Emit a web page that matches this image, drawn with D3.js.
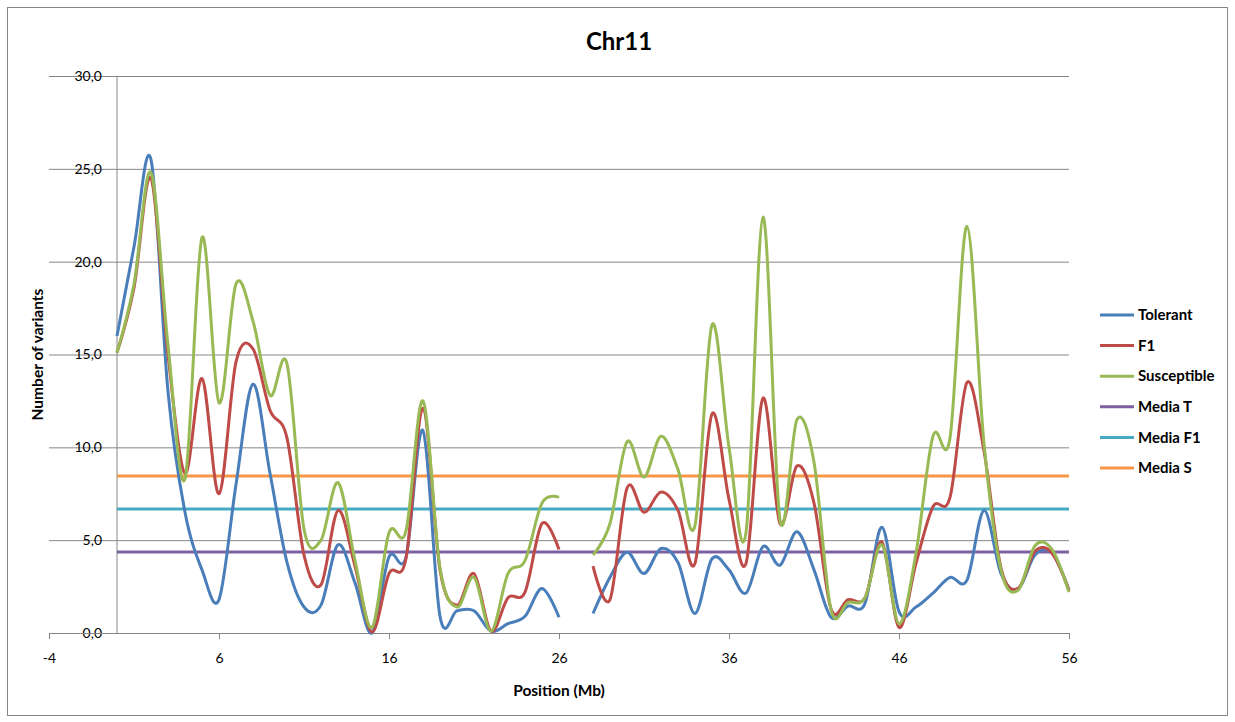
<!DOCTYPE html>
<html>
<head>
<meta charset="utf-8">
<script src="https://cdn.jsdelivr.net/npm/d3@7"></script>
<style>
  body { margin: 0; background: #fff; }
  svg { font-family: Lato, "Open Sans", sans-serif; }
</style>
</head>
<body>
<div id="chart"></div>
<script>
// Data
const positions = [0, 1, 2, 3, 4, 5, 6, 7, 8, 9, 10, 11, 12, 13, 14, 15, 16, 17, 18, 19,
    20, 21, 22, 23, 24, 25, 26, 27, 28, 29, 30, 31, 32, 33, 34, 35, 36, 37, 38, 39,
    40, 41, 42, 43, 44, 45, 46, 47, 48, 49, 50, 51, 52, 53, 54, 55, 56];

const tolerant = [16.0, 20.8, 25.5, 13.0, 6.5, 3.4, 1.8, 8.0, 13.4, 8.6,
    3.8, 1.4, 1.5, 4.75, 2.7, 0.0, 4.1, 4.1, 10.9, 0.9,
    1.2, 1.2, 0.1, 0.5, 0.9, 2.4, 0.85, null, 1.05, 3.0,
    4.35, 3.2, 4.55, 3.8, 1.05, 4.0, 3.4, 2.15, 4.65, 3.65,
    5.45, 3.4, 0.85, 1.45, 1.6, 5.7, 1.15, 1.4, 2.15, 3.0,
    2.85, 6.6, 3.2, 2.35, 4.2, 4.3, 2.3];

const f1 = [15.1, 18.6, 24.5, 15.0, 8.6, 13.7, 7.5, 14.6, 15.3, 12.0,
    10.5, 4.2, 2.6, 6.6, 3.6, 0.05, 3.2, 4.0, 12.1, 3.4,
    1.5, 3.2, 0.1, 1.9, 2.2, 5.9, 4.5, null, 3.6, 1.8,
    7.8, 6.5, 7.6, 6.6, 3.75, 11.8, 7.2, 3.75, 12.65, 5.9,
    9.0, 7.0, 1.3, 1.8, 1.9, 4.9, 0.3, 3.75, 6.8, 7.3,
    13.5, 9.8, 3.5, 2.4, 4.4, 4.3, 2.3];

const susceptible = [15.1, 18.8, 24.8, 15.5, 8.3, 21.3, 12.4, 18.8, 16.8, 12.8,
    14.5, 5.6, 5.0, 8.1, 3.9, 0.3, 5.4, 5.5, 12.5, 3.5,
    1.4, 3.0, 0.1, 3.2, 3.9, 7.0, 7.3, null, 4.2, 5.9,
    10.3, 8.4, 10.6, 8.8, 5.8, 16.6, 10.0, 5.4, 22.4, 6.1,
    11.5, 9.2, 1.25, 1.65, 1.9, 4.75, 0.5, 4.3, 10.6, 10.5,
    21.9, 10.2, 3.4, 2.3, 4.7, 4.5, 2.2];

const medianNames = ["Media T", "Media F1", "Media S"];
const medianValues = [4.36, 6.68, 8.45];

const seriesNames = ["Tolerant", "F1", "Susceptible"];
const xTicks = [-4, 6, 16, 26, 36, 46, 56];
const yTicks = [0, 5, 10, 15, 20, 25, 30];

const colors = {
    "Tolerant": "#4a7ebb",
    "F1": "#be4b48",
    "Susceptible": "#98b954",
    "Media T": "#7d60a0",
    "Media F1": "#46aac5",
    "Media S": "#f79646"
};

// Set up SVG container
const W = 1235, H = 722;
const margin = { top: 76, right: 166, bottom: 89, left: 49 };
const width = W - margin.left - margin.right;
const height = H - margin.top - margin.bottom;

const svg = d3.select("#chart")
    .append("svg")
    .attr("width", W)
    .attr("height", H);

// chart border
svg.append("rect")
    .attr("x", 7.5).attr("y", 7.5)
    .attr("width", 1220).attr("height", 708)
    .attr("fill", "none")
    .attr("stroke", "#868686");

const g = svg.append("g")
    .attr("transform", `translate(${margin.left},${margin.top})`);

const x = d3.scaleLinear().domain([-4, 56]).range([0, width]);
const y = d3.scaleLinear().domain([0, 30]).range([height, 0]);

// horizontal gridlines
g.append("g")
    .attr("class", "grid")
    .call(d3.axisLeft(y).tickValues(yTicks).tickSize(-width).tickFormat(""))
    .call(s => s.select(".domain").remove())
    .selectAll("line")
    .attr("stroke", "#868686");

// y axis sits at x = 0
g.append("line")
    .attr("x1", x(0)).attr("x2", x(0))
    .attr("y1", 0).attr("y2", height)
    .attr("stroke", "#868686");

g.append("g")
    .attr("class", "y-labels")
    .selectAll("text")
    .data(yTicks)
    .enter()
    .append("text")
    .attr("x", x(0) - 15)
    .attr("y", d => y(d))
    .attr("dy", "0.35em")
    .attr("text-anchor", "end")
    .attr("font-size", "14px")
    .attr("fill", "#000")
    .text(d => d3.format(".1f")(d).replace(".", ","));

// x axis
g.append("g")
    .attr("class", "x-axis")
    .attr("transform", `translate(0, ${height})`)
    .call(d3.axisBottom(x).tickValues(xTicks).tickFormat(d => String(d))
        .tickSize(6).tickSizeOuter(0).tickPadding(14));

g.selectAll(".x-axis path, .x-axis line").attr("stroke", "#868686");
g.selectAll(".x-axis text")
    .attr("fill", "#000")
    .attr("font-size", "14px")
    .attr("font-family", "Lato, sans-serif");

// median lines
g.selectAll(".median")
    .data(medianValues)
    .enter()
    .append("line")
    .attr("class", "median")
    .attr("x1", x(positions[0]))
    .attr("x2", x(positions[positions.length - 1]))
    .attr("y1", d => y(d))
    .attr("y2", d => y(d))
    .attr("stroke", (d, i) => colors[medianNames[i]])
    .attr("stroke-width", 3);

// smoothed series lines
const line = d3.line()
    .defined(d => d[1] !== null)
    .x(d => x(d[0]))
    .y(d => y(d[1]))
    .curve(d3.curveCardinal.tension(0));

[tolerant, f1, susceptible].forEach((vals, i) => {
    g.append("path")
        .datum(positions.map((p, j) => [p, vals[j]]))
        .attr("fill", "none")
        .attr("stroke", colors[seriesNames[i]])
        .attr("stroke-width", 3)
        .attr("stroke-linejoin", "round")
        .attr("d", line);
});

// Title
svg.append("text")
    .attr("x", 619)
    .attr("y", 50)
    .attr("text-anchor", "middle")
    .attr("font-size", "24px")
    .attr("font-weight", "bold")
    .text("Chr11");

// axis titles
svg.append("text")
    .attr("x", margin.left + x(26))
    .attr("y", 696)
    .attr("text-anchor", "middle")
    .attr("font-size", "15.5px")
    .attr("font-weight", "bold")
    .text("Position (Mb)");

svg.append("text")
    .attr("transform", `translate(43, ${margin.top + height / 2}) rotate(-90)`)
    .attr("text-anchor", "middle")
    .attr("font-size", "15.5px")
    .attr("font-weight", "bold")
    .text("Number of variants");

// Legend
const legendNames = seriesNames.concat(medianNames);
const legend = svg.append("g")
    .attr("transform", "translate(1100, 315)");

const items = legend.selectAll(".item")
    .data(legendNames)
    .enter()
    .append("g")
    .attr("transform", (d, i) => `translate(0, ${i * 30.6})`);

items.append("line")
    .attr("x1", 0).attr("x2", 34)
    .attr("stroke", d => colors[d])
    .attr("stroke-width", 3);

items.append("text")
    .attr("x", 38)
    .attr("dy", "0.35em")
    .attr("font-size", "15px")
    .attr("font-weight", "bold")
    .text(d => d);
</script>
</body>
</html>
